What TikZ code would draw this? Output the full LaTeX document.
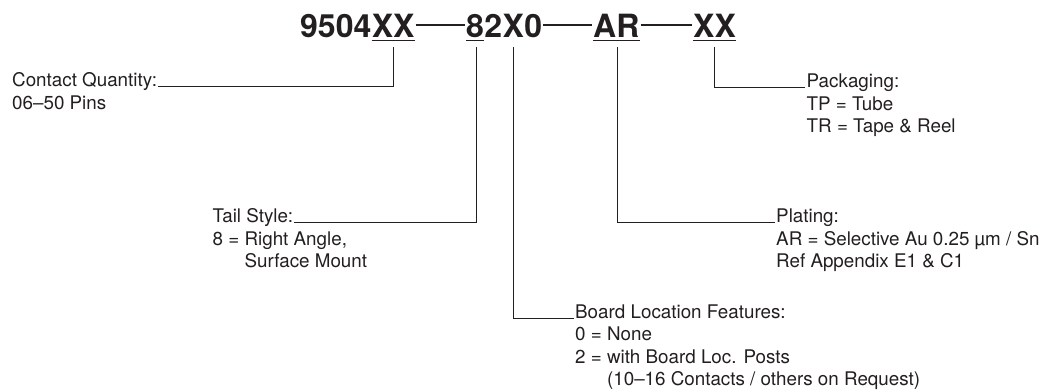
\documentclass[tikz,border=0pt]{standalone}
\usepackage{fontspec}
\setmainfont{TeX Gyre Heros}
\definecolor{ink}{RGB}{35,31,32}
\begin{document}
\begin{tikzpicture}[x=1pt,y=-1pt,
  lbl/.style={anchor=base west, inner sep=0pt, text=ink, font=\fontsize{18.8}{22.6}\selectfont},
  lbltight/.style={lbl, font=\fontsize{18.8}{22.3}\selectfont},
  pn/.style={anchor=base west, inner sep=0pt, text=ink, font=\fontsize{32}{38}\selectfont\bfseries},
  lead/.style={draw=ink, line width=1.1pt},
  uline/.style={draw=ink, line width=1.9pt},
  dashln/.style={draw=ink, line width=1.1pt}]
\useasboundingbox (0,0) rectangle (1040,389);
% part number
\node[pn] (p9504) at (300,37) {9504};
\node[pn] (pxa) at (p9504.base east) {XX};
\node[pn] (p8) at (466,37) {8};
\node[pn] (p2) at (p8.base east) {2};
\node[pn] (pX) at (p2.base east) {X};
\node[pn] (p0) at (pX.base east) {0};
\node[pn] (par) at (593,37) {AR};
\node[pn] (pxb) at (693,37) {XX};
% underlines
\foreach \n in {pxa,p8,par,pxb}
  \draw[uline] ([yshift=-3.5pt]\n.base west) -- ([yshift=-3.5pt]\n.base east);
% dashes between groups
\draw[dashln] ([xshift=1pt,yshift=12pt]pxa.base east) -- ([xshift=-1pt,yshift=12pt]p8.base west);
\draw[dashln] ([xshift=1pt,yshift=12pt]p0.base east) -- ([xshift=-1pt,yshift=12pt]par.base west);
\draw[dashln] ([xshift=1pt,yshift=12pt]par.base east) -- ([xshift=-1pt,yshift=12pt]pxb.base west);
% labels
\node[lbl] (cq) at (12,86.6) {Contact Quantity:};
\node[lbl] (cqb) at ([yshift=-22.6pt]cq.base west) {06–50 Pins};
\node[lbl] (ts) at (212.5,222.5) {Tail Style:};
\node[lbl] (tsb) at ([yshift=-22.6pt]ts.base west) {\vtop{\hbox{8 = Right Angle,}\hbox{\phantom{8 = }Surface Mount}}};
\node[lbl] (bl) at (575,318.6) {Board Location Features:};
\node[lbltight] (blb) at ([yshift=-22.3pt]bl.base west) {\vtop{\hbox{0 = None}\hbox{2 = with Board Loc. Posts}\hbox{\phantom{2 = }(10–16 Contacts / others on Request)}}};
\node[lbl] (pl) at (776,222.5) {Plating:};
\node[lbl] (plb) at ([yshift=-22.6pt]pl.base west) {\vtop{\hbox{AR = Selective Au 0.25 µm / Sn}\hbox{Ref Appendix E1 \& C1}}};
\node[lbl] (pk) at (806.5,87.4) {Packaging:};
\node[lbl] (pkb) at ([yshift=-22.6pt]pk.base west) {\vtop{\hbox{TP = Tube}\hbox{TR = Tape \& Reel}}};
% leaders
\draw[lead] ([yshift=-10pt]pxa.base) |- ([xshift=1pt]cq.base east);
\draw[lead] ([xshift=1.5pt,yshift=-10pt]p8.base) |- ([xshift=1pt]ts.base east);
\draw[lead] ([yshift=-10pt]pX.base) |- ([xshift=-1.5pt]bl.base west);
\draw[lead] ([xshift=1.5pt,yshift=-10pt]par.base) |- ([xshift=-1.5pt]pl.base west);
\draw[lead] ([yshift=-10pt]pxb.base) |- ([xshift=-1.5pt]pk.base west);
\end{tikzpicture}
\end{document}
